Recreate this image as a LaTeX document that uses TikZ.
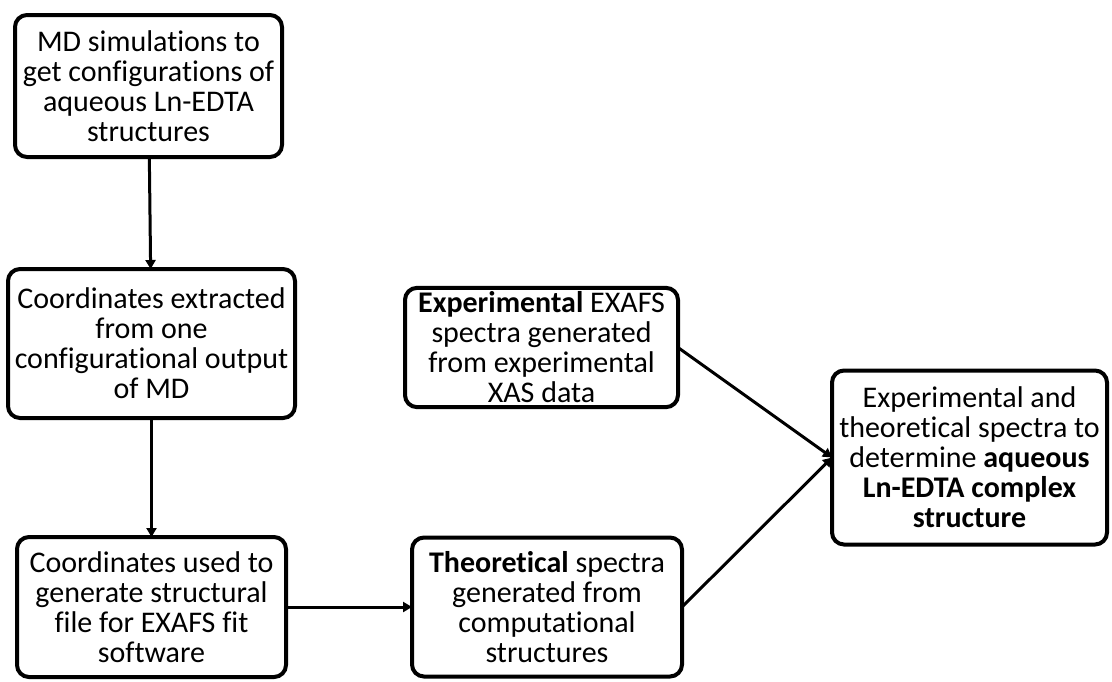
\documentclass[tikz,border=0pt]{standalone}
\usepackage{fontspec}
\setmainfont{Carlito}[Ligatures=NoCommon]
\usetikzlibrary{arrows.meta,positioning,calc}
\begin{document}
\begin{tikzpicture}[
  node distance=56pt,
  box/.style={draw, line width=2pt, rounded corners=6pt, align=center, inner sep=2pt, outer sep=0pt, font=\fontsize{15}{15}\selectfont},
  arr/.style={-{Triangle[length=4.5pt,width=5pt]}, line width=1.5pt}
]
\useasboundingbox (0,0) rectangle (556pt,-340.5pt);
\node[box, minimum width=133.5pt, minimum height=71pt] (md) at (74.25pt,-43pt) {MD simulations to\\get configurations of\\aqueous Ln-EDTA\\structures};
\node[box, minimum width=143.5pt, minimum height=74.5pt, below=56pt of md, xshift=1.5pt] (coord) {Coordinates extracted\\from one\\configurational output\\of MD};
\node[box, minimum width=134.5pt, minimum height=70pt, below=59.5pt of coord] (fit) {Coordinates used to\\generate structural\\file for EXAFS fit\\software};
\node[box, minimum width=136.5pt, minimum height=55.5pt, right=55pt of coord, yshift=-2pt] (expt) {\textbf{Experimental} EXAFS\\spectra generated\\from experimental\\XAS data};
\node[box, minimum width=135pt, minimum height=69.5pt, right=63pt of fit] (theo) {\textbf{Theoretical} spectra\\generated from\\computational\\structures};
\node[box, minimum width=137.5pt, minimum height=87pt, right=75pt of theo, yshift=74.75pt] (result) {Experimental and\\theoretical spectra to\\determine \textbf{aqueous}\\\textbf{Ln-EDTA complex}\\\textbf{structure}};
\draw[arr] (md) -- (coord);
\draw[arr] (coord) -- (fit);
\draw[arr] (fit) -- (theo);
\draw[arr] (expt.east) -- (result.west);
\draw[arr] (theo.east) -- (result.west);
\end{tikzpicture}
\end{document}
